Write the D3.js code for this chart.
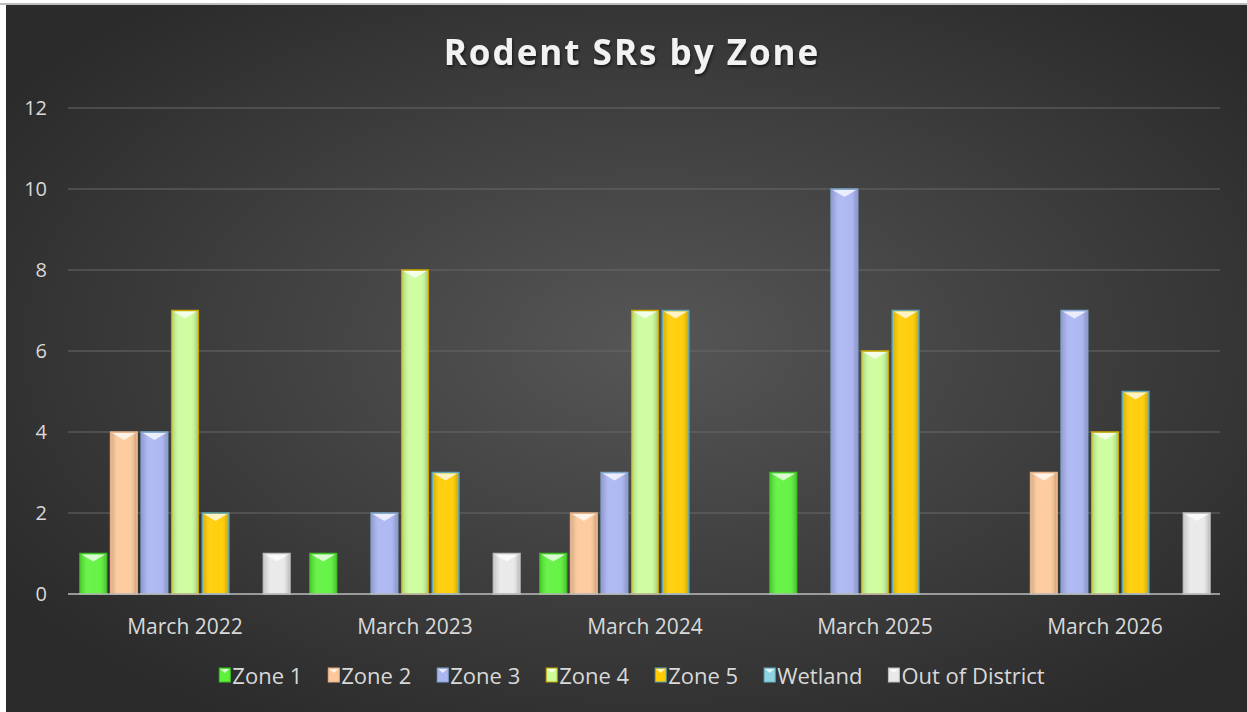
<!DOCTYPE html>
<html>
<head>
<meta charset="utf-8">
<script src="https://cdn.jsdelivr.net/npm/d3@7"></script>
<style>
  body { margin: 0; background: #ffffff; }
  #container { width: 1247px; height: 712px; }
  text { font-family: "Open Sans", "Noto Sans", sans-serif; }
</style>
</head>
<body>
<div id="container"></div>
<script>
// chart data
const categories = ["March 2022", "March 2023", "March 2024", "March 2025", "March 2026"];
const seriesNames = ["Zone 1", "Zone 2", "Zone 3", "Zone 4", "Zone 5", "Wetland", "Out of District"];
const zone1 = [1, 1, 1, 3, 0];
const zone2 = [4, 0, 2, 0, 3];
const zone3 = [4, 2, 3, 10, 7];
const zone4 = [7, 8, 7, 6, 4];
const zone5 = [2, 3, 7, 7, 5];
const wetland = [0, 0, 0, 0, 0];
const outOfDistrict = [1, 1, 0, 0, 2];
const yTicks = [0, 2, 4, 6, 8, 10, 12];

const seriesValues = [zone1, zone2, zone3, zone4, zone5, wetland, outOfDistrict];
const fills = ["#5ef23c", "#fdc99a", "#aab5f2", "#ccfd9b", "#ffcc00", "#8fd3e3", "#e9e9e9"];
const strokes = ["#3fc026", "#e2b088", "#7ea6c8", "#c9a400", "#5fa6b4", "#6cb0c0", "#bdbdbd"];

const width = 1247,
  height = 712;

const svg = d3
  .select("#container")
  .append("svg")
  .attr("width", width)
  .attr("height", height);

const defs = svg.append("defs");

//background gradient
const bg = defs
  .append("radialGradient")
  .attr("id", "bg")
  .attr("cx", "52%")
  .attr("cy", "48%")
  .attr("r", "62%");
bg.append("stop").attr("offset", "0%").attr("stop-color", "#565656");
bg.append("stop").attr("offset", "100%").attr("stop-color", "#2b2b2b");

//shine across each bar
const shine = defs
  .append("linearGradient")
  .attr("id", "shine")
  .attr("x1", "0%")
  .attr("x2", "100%");
shine.append("stop").attr("offset", "0%").attr("stop-color", "#000").attr("stop-opacity", 0.14);
shine.append("stop").attr("offset", "25%").attr("stop-color", "#fff").attr("stop-opacity", 0.08);
shine.append("stop").attr("offset", "75%").attr("stop-color", "#fff").attr("stop-opacity", 0.05);
shine.append("stop").attr("offset", "100%").attr("stop-color", "#000").attr("stop-opacity", 0.18);

const shadow = defs.append("filter").attr("id", "shadow");
shadow
  .append("feDropShadow")
  .attr("dx", 1)
  .attr("dy", 2)
  .attr("stdDeviation", 1.5)
  .attr("flood-color", "#000")
  .attr("flood-opacity", 0.6);

svg.append("rect").attr("x", 0).attr("y", 0).attr("width", width).attr("height", height).attr("fill", "#ffffff");
svg.append("rect").attr("x", 0).attr("y", 3).attr("width", width).attr("height", 2).attr("fill", "#bdbdbd");
svg
  .append("rect")
  .attr("x", 6)
  .attr("y", 5)
  .attr("width", width - 6)
  .attr("height", height - 5)
  .attr("fill", "url(#bg)");

//title
svg
  .append("text")
  .attr("x", 632)
  .attr("y", 65)
  .attr("text-anchor", "middle")
  .attr("fill", "#f2f2f2")
  .attr("font-size", 35)
  .attr("font-weight", 700)
  .attr("letter-spacing", 2)
  .attr("filter", "url(#shadow)")
  .text("Rodent SRs by Zone");

//scales
const x = d3.scaleBand().domain(categories).range([70, 1220]);
const xInner = d3.scaleBand().domain(seriesNames).range([10, x.bandwidth() - 10]).paddingInner(0.13);
const y = d3.scaleLinear().domain([0, 12]).range([594, 108]);

//gridlines
svg
  .append("g")
  .selectAll("line")
  .data(yTicks.filter((d) => d > 0))
  .enter()
  .append("line")
  .attr("x1", 68)
  .attr("x2", 1220)
  .attr("y1", (d) => y(d))
  .attr("y2", (d) => y(d))
  .attr("stroke", "#686868")
  .attr("stroke-width", 1);

//y axis labels
const yAxis = d3.axisLeft(y).tickValues(yTicks).tickSize(0).tickPadding(0);
svg
  .append("g")
  .attr("transform", "translate(47,0)")
  .call(yAxis)
  .call((g) => g.select(".domain").remove())
  .selectAll("text")
  .attr("fill", "#d9d9d9")
  .attr("font-size", 20)
  .attr("font-family", '"Open Sans", sans-serif');

//bars
const groups = svg
  .append("g")
  .selectAll("g")
  .data(categories)
  .enter()
  .append("g")
  .attr("transform", (d) => `translate(${x(d)},0)`);

const bars = groups
  .selectAll("g")
  .data((c, ci) =>
    seriesNames.map((s, si) => ({ series: s, si: si, value: seriesValues[si][ci] }))
  )
  .enter()
  .filter((d) => d.value > 0)
  .append("g");

bars
  .append("rect")
  .attr("x", (d) => xInner(d.series))
  .attr("y", (d) => y(d.value))
  .attr("width", xInner.bandwidth())
  .attr("height", (d) => y(0) - y(d.value))
  .attr("fill", (d) => fills[d.si])
  .attr("stroke", (d) => strokes[d.si])
  .attr("stroke-width", 1.5);

bars
  .append("rect")
  .attr("x", (d) => xInner(d.series) + 1)
  .attr("y", (d) => y(d.value) + 1)
  .attr("width", xInner.bandwidth() - 2)
  .attr("height", (d) => y(0) - y(d.value) - 1)
  .attr("fill", "url(#shine)");

//bevel on top of each bar
bars
  .append("path")
  .attr("d", (d) => {
    const x0 = xInner(d.series) + 1.5,
      x1 = xInner(d.series) + xInner.bandwidth() - 1.5,
      y0 = y(d.value) + 1;
    return `M${x0},${y0}L${x1},${y0}L${(x0 + x1) / 2},${y0 + 7}Z`;
  })
  .attr("fill", "#ffffff")
  .attr("opacity", 0.75);

//baseline
svg
  .append("line")
  .attr("x1", 68)
  .attr("x2", 1220)
  .attr("y1", y(0))
  .attr("y2", y(0))
  .attr("stroke", "#bdbdbd")
  .attr("stroke-width", 1.5);

//x axis labels
svg
  .append("g")
  .selectAll("text")
  .data(categories)
  .enter()
  .append("text")
  .attr("x", (d) => x(d) + x.bandwidth() / 2)
  .attr("y", 634)
  .attr("text-anchor", "middle")
  .attr("fill", "#d9d9d9")
  .attr("font-size", 21)
  .text((d) => d);

//legend
const legend = svg.append("g");
const items = legend
  .selectAll("g")
  .data(seriesNames)
  .enter()
  .append("g");

items
  .append("text")
  .attr("y", 684)
  .attr("fill", "#d9d9d9")
  .attr("font-size", 22)
  .text((d) => d);

let lx = 0;
const gap = 26;
items.each(function (d, i) {
  const w = this.querySelector("text").getComputedTextLength();
  d3.select(this).attr("data-x", lx);
  lx += 13 + w + gap;
});
lx -= gap;
const start = 632 - lx / 2;
items.attr("transform", function () {
  return `translate(${start + +this.getAttribute("data-x")},0)`;
});
items.select("text").attr("x", 13);

items
  .append("rect")
  .attr("x", 0)
  .attr("y", 668)
  .attr("width", 11)
  .attr("height", 14)
  .attr("fill", (d, i) => fills[i])
  .attr("stroke", (d, i) => strokes[i])
  .attr("stroke-width", 1);

items
  .append("path")
  .attr("d", "M1,669L10,669L5.5,673Z")
  .attr("fill", "#fff")
  .attr("opacity", 0.75);
</script>
</body>
</html>
